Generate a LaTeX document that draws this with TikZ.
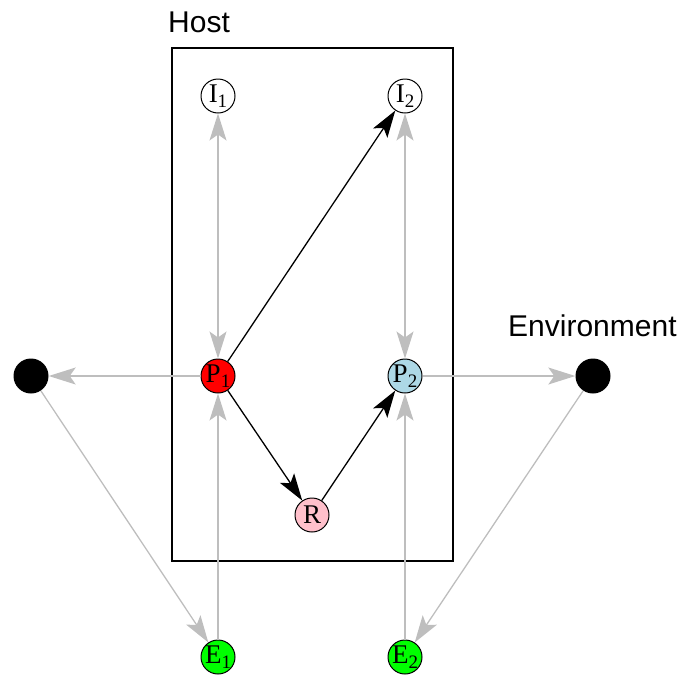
\documentclass[tikz,border=0pt]{standalone}
\usepackage{fontspec}
\setmainfont{Liberation Serif}
\newfontfamily\helvfont{Liberation Sans}
\usetikzlibrary{arrows.meta}
\definecolor{edgegray}{HTML}{BEBEBE}
\definecolor{pone}{HTML}{FF0000}
\definecolor{ptwo}{HTML}{ADD8E6}
\definecolor{rfill}{HTML}{FFC0CB}
\definecolor{efill}{HTML}{00FF00}
\newcommand{\lowsub}[1]{\raisebox{-0.35ex}{\fontsize{19}{19}\selectfont#1}}
\tikzset{
  state/.style={circle,draw,line width=1pt,inner sep=0pt,minimum size=34,
    font=\fontsize{27}{27}\selectfont},
  sink/.style={circle,fill=black,inner sep=0pt,minimum size=35},
  head/.tip={Stealth[length=27pt,width=17pt,inset=6pt]},
  flow/.style={edgegray,line width=1.3pt,-head},
  twoway/.style={edgegray,line width=1.3pt,head-head},
  link/.style={black,line width=1.3pt,-head},
  caption/.style={font=\helvfont\fontsize{30}{30}\selectfont,anchor=base west,inner sep=0pt}
}
\begin{document}
\begin{tikzpicture}[x=1pt,y=-1pt]
\useasboundingbox (0,0) rectangle (684,675);
% host box
\draw[line width=2] (172,48) rectangle (453,561);
\node[caption] (hostlabel) at (168,32) {Host};
\node[caption] (envlabel) at (508,336) {Environment};
% nodes
\node[state] (i1) at (218,96) {I\lowsub{1}};
\node[state] (i2) at (405,96) {I\lowsub{2}};
\node[state,fill=pone] (p1) at (218,376) {P\lowsub{1}};
\node[state,fill=ptwo] (p2) at (405,376) {P\lowsub{2}};
\node[state,fill=rfill] (r) at (312,515) {R};
\node[state,fill=efill] (e1) at (218,657) {E\lowsub{1}};
\node[state,fill=efill] (e2) at (405,657) {E\lowsub{2}};
\node[sink] (envl) at (31,376) {};
\node[sink] (envr) at (593,376) {};
% edges
\draw[twoway] (i1) -- (p1);
\draw[twoway] (i2) -- (p2);
\draw[flow] (p1) -- (envl);
\draw[flow] (envl) -- (e1);
\draw[flow] (e1) -- (p1);
\draw[flow] (p2) -- (envr);
\draw[flow] (envr) -- (e2);
\draw[flow] (e2) -- (p2);
\draw[link] (p1) -- (i2);
\draw[link] (p1) -- (r);
\draw[link] (r) -- (p2);
\end{tikzpicture}
\end{document}
